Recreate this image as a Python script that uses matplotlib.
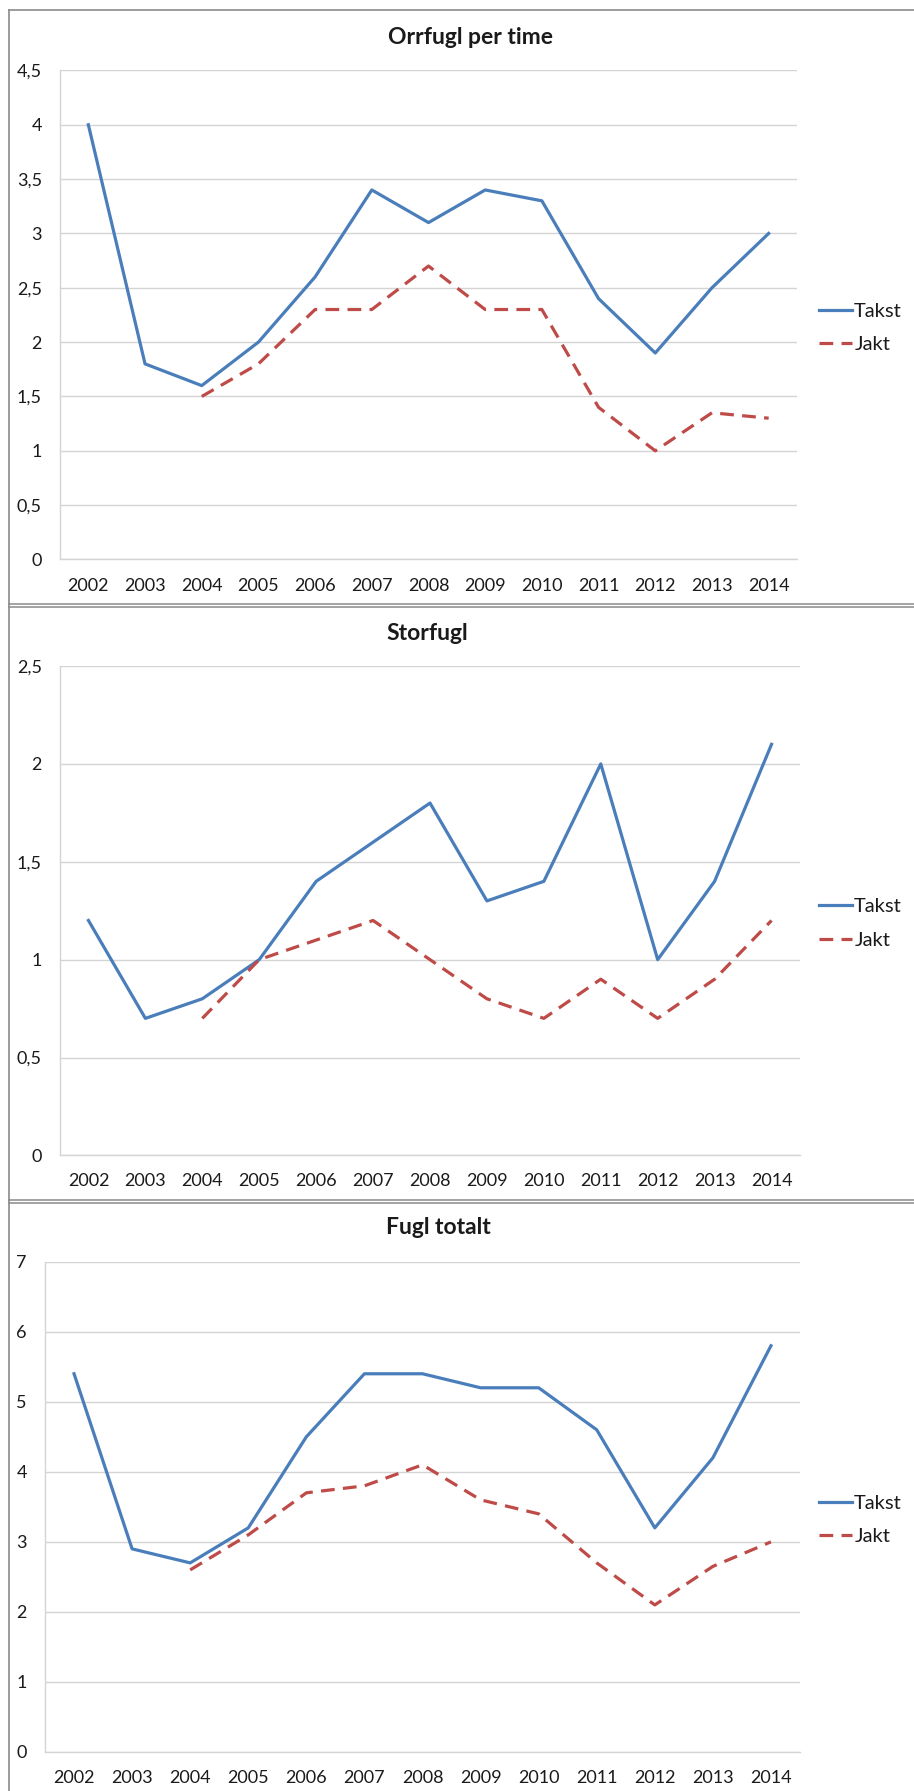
import numpy as np
import matplotlib
matplotlib.use("Agg")
import matplotlib.pyplot as plt
from matplotlib.lines import Line2D

plt.rcParams['font.family'] = ['Lato', 'DejaVu Sans']

years = [str(y) for y in range(2002, 2015)]

# Orrfugl per time
orr_takst = [4.0, 1.8, 1.6, 2.0, 2.6, 3.4, 3.1, 3.4, 3.3, 2.4, 1.9, 2.5, 3.0]
orr_jakt = [np.nan, np.nan, 1.5, 1.8, 2.3, 2.3, 2.7, 2.3, 2.3, 1.4, 1.0, 1.35, 1.3]

# Storfugl
stor_takst = [1.2, 0.7, 0.8, 1.0, 1.4, 1.6, 1.8, 1.3, 1.4, 2.0, 1.0, 1.4, 2.1]
stor_jakt = [np.nan, np.nan, 0.7, 1.0, 1.1, 1.2, 1.0, 0.8, 0.7, 0.9, 0.7, 0.9, 1.2]

# Fugl totalt
tot_takst = [5.4, 2.9, 2.7, 3.2, 4.5, 5.4, 5.4, 5.2, 5.2, 4.6, 3.2, 4.2, 5.8]
tot_jakt = [np.nan, np.nan, 2.6, 3.1, 3.7, 3.8, 4.1, 3.6, 3.4, 2.7, 2.1, 2.65, 3.0]

W, H = 914, 1791
fig = plt.figure(figsize=(W / 100, H / 100), dpi=100)
fig.patch.set_facecolor('white')

BLUE = '#4A7EBB'
RED = '#BE4B48'
GRID = '#D4D4D4'
TXT = '#1a1a1a'


def px_axes(left, right, top, bottom):
    return fig.add_axes([left / W, 1 - bottom / H, (right - left) / W, (bottom - top) / H])


def fmt(v):
    return ('%g' % v).replace('.', ',')


panels = [
    # title, takst, jakt, ymax, ystep, (left, right, top, bottom), title pos, legend y
    ("Orrfugl per time", orr_takst, orr_jakt, 4.5, 0.5, (60, 797, 70.4, 559.5), (470, 38), 328),
    ("Storfugl", stor_takst, stor_jakt, 2.5, 0.5, (60, 800, 666, 1155.4), (427, 633), 923.5),
    ("Fugl totalt", tot_takst, tot_jakt, 7, 1, (45, 800, 1261.7, 1752), (438, 1228), 1519.7),
]

for title, takst, jakt, ymax, ystep, box, tpos, ly in panels:
    ax = px_axes(*box)
    x = np.arange(len(years))
    ax.plot(x, takst, color=BLUE, lw=2.3, label='Takst', zorder=3)
    ax.plot(x, jakt, color=RED, lw=2.3, linestyle=(0, (4.3, 2.6)), label='Jakt', zorder=3)
    ax.set_xlim(-0.5, len(years) - 0.5)
    ax.set_ylim(0, ymax)
    yt = np.arange(0, ymax + ystep / 2, ystep)
    ax.set_yticks(yt)
    ax.set_yticklabels([fmt(v) for v in yt])
    ax.set_xticks(x)
    ax.set_xticklabels(years)
    ax.tick_params(axis='both', length=0, labelsize=13, colors=TXT)
    ax.tick_params(axis='y', pad=13)
    ax.tick_params(axis='x', pad=13)
    ax.grid(axis='y', color=GRID, lw=1)
    ax.set_axisbelow(True)
    for s in ['top', 'right']:
        ax.spines[s].set_visible(False)
    for s in ['left', 'bottom']:
        ax.spines[s].set_color(GRID)
        ax.spines[s].set_linewidth(1)
    fig.text(tpos[0] / W, 1 - tpos[1] / H, title, ha='center', va='center',
             fontsize=16.5, fontweight='bold', color=TXT)
    ax.legend(loc='center left', bbox_to_anchor=(819 / W, 1 - ly / H),
              bbox_transform=fig.transFigure, frameon=False, borderpad=0,
              borderaxespad=0, handlelength=1.65, handletextpad=0.1,
              labelspacing=0.8, fontsize=14.5, labelcolor=TXT)

# chart frames
FRAME = '#8a8a8a'
fig.add_artist(Line2D([8.5 / W, 8.5 / W], [0, 1 - 10 / H], color=FRAME, lw=1.2,
                      transform=fig.transFigure))
fig.add_artist(Line2D([8.5 / W, 1], [1 - 10 / H, 1 - 10 / H], color=FRAME, lw=1.2,
                      transform=fig.transFigure))
for yy in [604, 607, 1200, 1203]:
    fig.add_artist(Line2D([8.5 / W, 1], [1 - yy / H, 1 - yy / H], color=FRAME, lw=1.1,
                          transform=fig.transFigure))

fig.savefig('out.png', dpi=100)
